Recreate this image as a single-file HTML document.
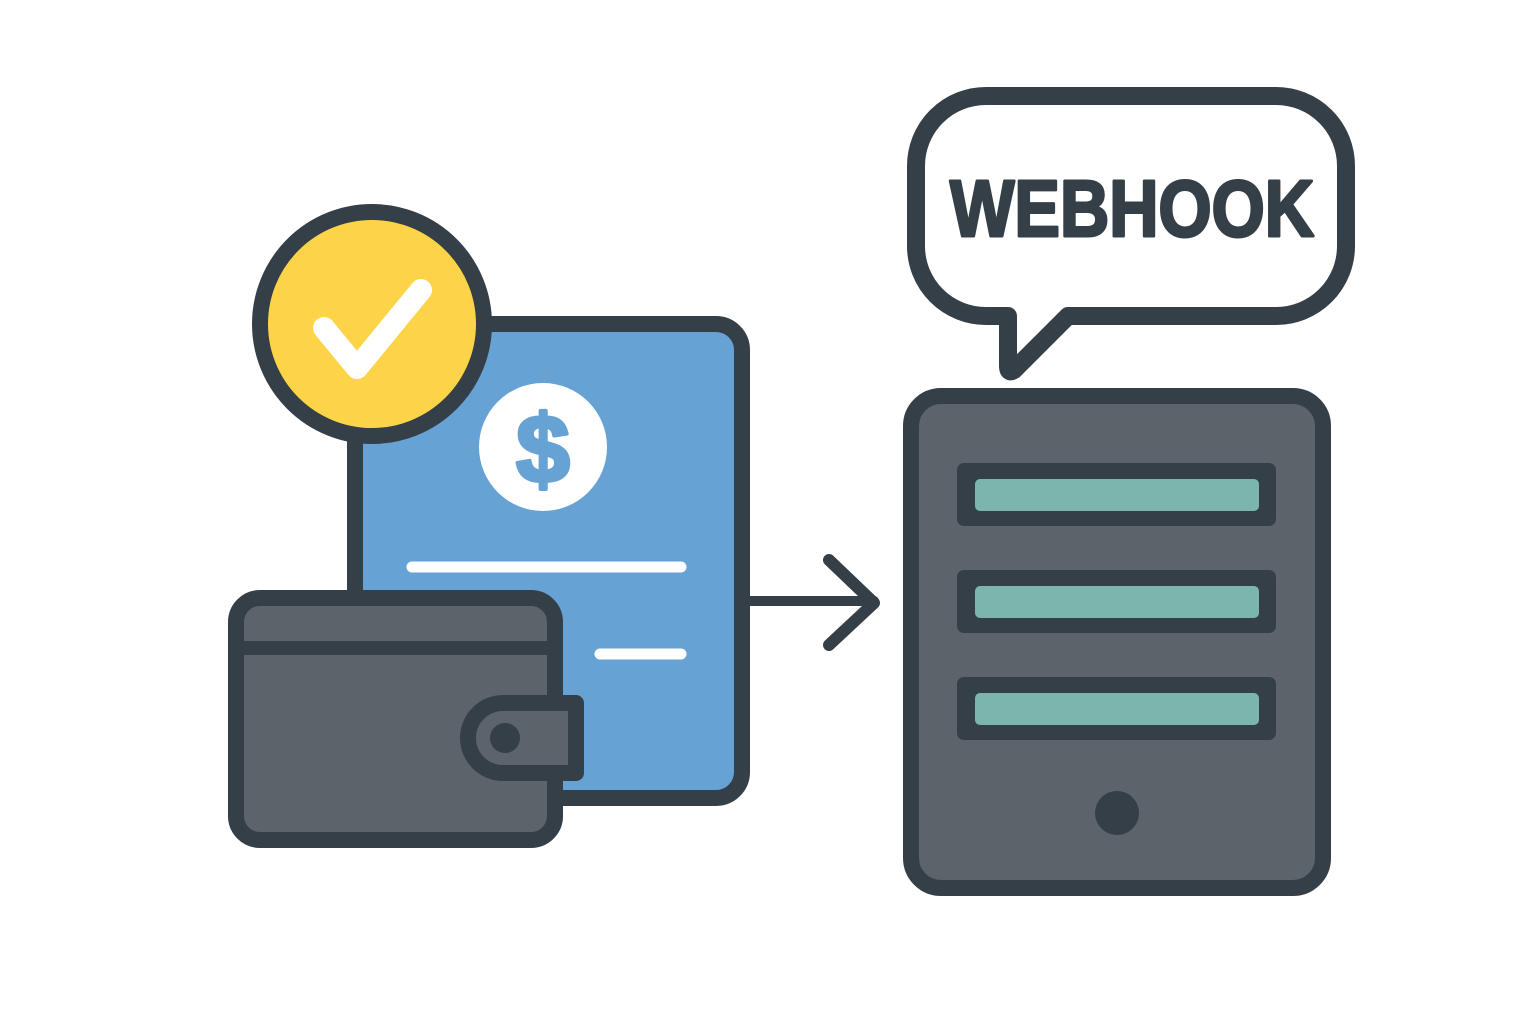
<!DOCTYPE html>
<html><head><meta charset="utf-8"><style>
html,body{margin:0;padding:0;background:#fff;width:1536px;height:1024px;overflow:hidden}
</style></head><body>
<svg width="1536" height="1024" viewBox="0 0 1536 1024" xmlns="http://www.w3.org/2000/svg">
<g stroke="#353f47" stroke-linejoin="round" stroke-linecap="round">
  <rect x="355" y="324" width="387" height="474" rx="26" fill="#67a2d4" stroke-width="16"/>
  <circle cx="543" cy="447" r="64" fill="#fff" stroke="none"/>
  <text x="543" y="482" font-family="Liberation Sans, sans-serif" font-weight="bold" font-size="96" fill="#67a2d4" stroke="#67a2d4" stroke-width="4" text-anchor="middle">$</text>
  <line x1="412" y1="567" x2="681" y2="567" stroke="#fff" stroke-width="11"/>
  <line x1="600" y1="654" x2="681" y2="654" stroke="#fff" stroke-width="11"/>
  <circle cx="372" cy="324" r="112" fill="#fdd447" stroke-width="16"/>
  <polyline points="324,328 357,368 421,290" fill="none" stroke="#fff" stroke-width="22"/>
  <rect x="236" y="598" width="319" height="242" rx="24" fill="#5d636b" stroke-width="16"/>
  <line x1="240" y1="648" x2="552" y2="648" stroke-width="14" stroke-linecap="butt"/>
  <path d="M503,703 L576,703 L576,773 L503,773 A35,35 0 0 1 503,703 Z" fill="#5d636b" stroke-width="16"/>
  <circle cx="505" cy="738" r="15" fill="#353f47" stroke="none"/>
  <line x1="750" y1="601" x2="874" y2="601" stroke-width="10"/>
  <polyline points="829,560 874,603 829,645" fill="none" stroke-width="12"/>
  <path d="M986,96 L1276,96 A70,70 0 0 1 1346,166 L1346,246 A70,70 0 0 1 1276,316 L1068,316 L1014,370 Q1008,374 1008,366 L1008,316 L986,316 A70,70 0 0 1 916,246 L916,166 A70,70 0 0 1 986,96 Z" fill="#fff" stroke-width="18"/>
  <text x="950" y="236" font-family="Liberation Sans, sans-serif" font-weight="bold" font-size="80" fill="#353f47" stroke="#353f47" stroke-width="3" textLength="364" lengthAdjust="spacingAndGlyphs">WEBHOOK</text>
  <rect x="911" y="396" width="412" height="492" rx="30" fill="#5d636b" stroke-width="16"/>
  <g stroke="none">
    <rect x="957" y="463" width="319" height="63" rx="7" fill="#353f47"/>
    <rect x="975" y="479" width="284" height="32" rx="5" fill="#7bb5ad"/>
    <rect x="957" y="570" width="319" height="63" rx="7" fill="#353f47"/>
    <rect x="975" y="586" width="284" height="32" rx="5" fill="#7bb5ad"/>
    <rect x="957" y="677" width="319" height="63" rx="7" fill="#353f47"/>
    <rect x="975" y="693" width="284" height="32" rx="5" fill="#7bb5ad"/>
    <circle cx="1117" cy="813" r="22" fill="#353f47"/>
  </g>
</g>
</svg>
</body></html>
